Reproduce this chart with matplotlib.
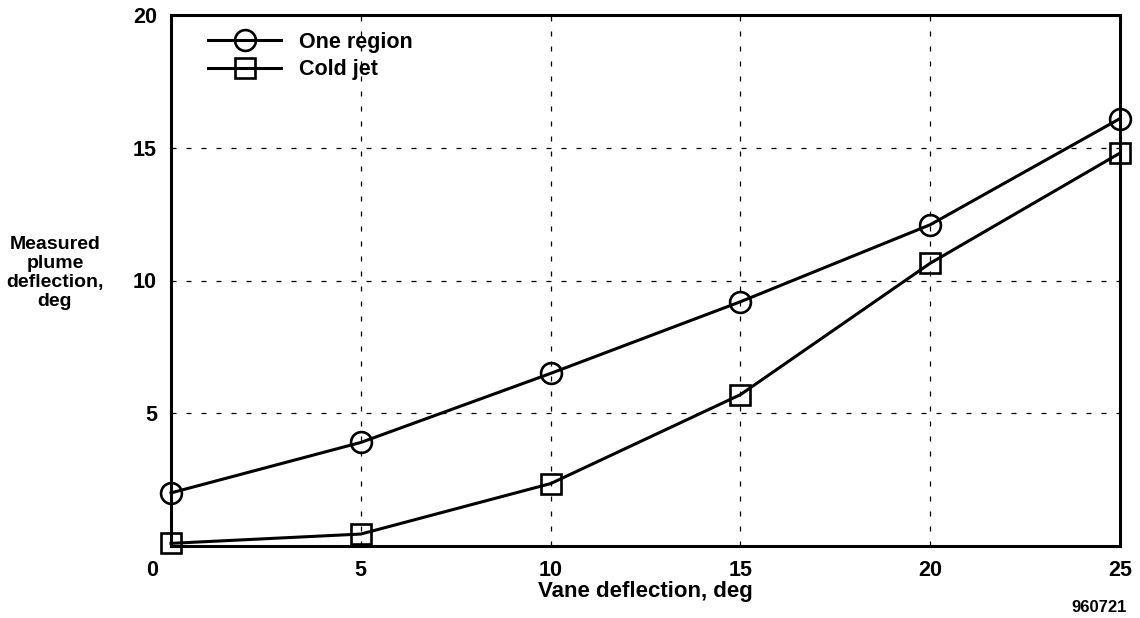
import matplotlib
matplotlib.use("Agg")
import matplotlib.pyplot as plt
import matplotlib.transforms as mtransforms

vane = [0, 5, 10, 15, 20, 25]
one_region = [2.0, 3.9, 6.5, 9.2, 12.1, 16.1]
cold_jet = [0.1, 0.45, 2.35, 5.7, 10.65, 14.8]
xticks = [0, 5, 10, 15, 20, 25]
yticks = [5, 10, 15, 20]

plt.rcParams['font.family'] = ['Liberation Sans', 'DejaVu Sans']
plt.rcParams['font.weight'] = 'bold'

W, H = 1140, 618
fig = plt.figure(figsize=(W / 100, H / 100), dpi=100)
ax = fig.add_axes([171 / W, (H - 546) / H, (1120 - 171) / W, (546 - 15) / H])

ax.plot(vane, one_region, color='black', lw=2.2, marker='o', ms=15, mfc='none',
        mec='black', mew=1.9, clip_on=False, zorder=3, label='One region')
ax.plot(vane, cold_jet, color='black', lw=2.2, marker='s', ms=14, mfc='none',
        mec='black', mew=1.9, clip_on=False, zorder=3, label='Cold jet')

ax.set_xlim(0, 25)
ax.set_ylim(0, 20)
ax.set_xticks(xticks)
ax.set_xticklabels([str(v) for v in xticks])
ax.set_yticks(yticks)
ax.set_yticklabels([str(v) for v in yticks])
ax.tick_params(length=0, labelsize=15.5, pad=10)
for lab in ax.get_yticklabels():
    lab.set_fontweight('bold')
for lab in ax.get_xticklabels():
    lab.set_fontweight('bold')
lab0 = ax.get_xticklabels()[0]
lab0.set_transform(lab0.get_transform() + mtransforms.ScaledTranslation(-0.19, 0, fig.dpi_scale_trans))

ax.grid(True, color='black', lw=0.9, linestyle=(0, (4, 8)))
for s in ax.spines.values():
    s.set_linewidth(2.2)

ax.set_xlabel('Vane deflection, deg', fontsize=16, fontweight='bold', labelpad=0)
fig.text(55 / W, 1 - 273 / H, 'Measured\nplume\ndeflection,\ndeg', ha='center', va='center',
         fontsize=14, fontweight='bold', linespacing=1.15)
fig.text(1099 / W, 1 - 608 / H, '960721', ha='center', va='center', fontsize=12, fontweight='bold')

leg = ax.legend(loc='upper left', bbox_to_anchor=(208 / W, 1 - 32 / H), bbox_transform=fig.transFigure,
                frameon=False, fontsize=15.5, handlelength=3.4, handletextpad=0.85,
                labelspacing=0.3, borderpad=0, borderaxespad=0)
for t in leg.get_texts():
    t.set_fontweight('bold')

fig.savefig('out.png', dpi=100)
